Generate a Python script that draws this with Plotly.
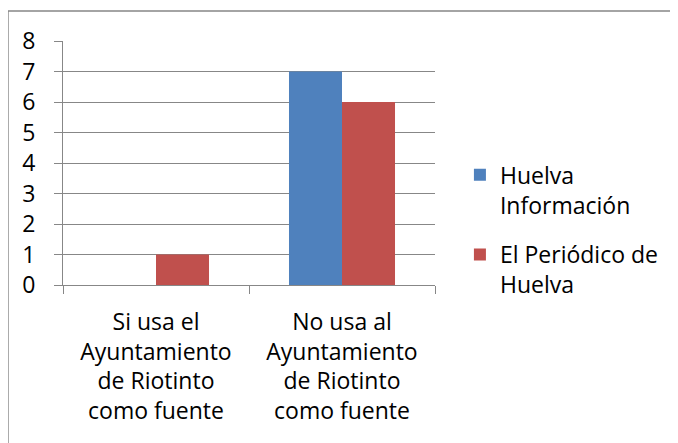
import plotly.graph_objects as go

categories = ["Si usa el<br>Ayuntamiento<br>de Riotinto<br>como fuente",
              "No usa al<br>Ayuntamiento<br>de Riotinto<br>como fuente"]
series_names = ["Huelva<br>Información", "El Periódico de<br>Huelva"]
huelva_informacion = [0, 7]
el_periodico = [1, 6]
y_ticks = [0, 1, 2, 3, 4, 5, 6, 7, 8]

FONT = "Open Sans"
GRID = "#878787"
FS = 23

fig = go.Figure()
fig.add_trace(go.Bar(x=categories, y=huelva_informacion, name=series_names[0],
                     legendgroup="a",
                     marker=dict(color="#4F81BD", line=dict(width=0))))
fig.add_trace(go.Bar(x=categories, y=el_periodico, name=series_names[1],
                     legendgroup="b",
                     marker=dict(color="#C0504D", line=dict(width=0))))

fig.update_layout(
    width=670, height=435,
    margin=dict(l=55, r=243, t=33, b=158),
    paper_bgcolor="white", plot_bgcolor="white",
    barmode="group", bargap=0.43, bargroupgap=0,
    font=dict(family=FONT, size=FS, color="black"),
    showlegend=True,
    legend=dict(x=1.067, y=0.54, xanchor="left", yanchor="top",
                valign="top", itemwidth=30, tracegroupgap=17,
                font=dict(family=FONT, size=FS, color="black"),
                bgcolor="rgba(0,0,0,0)"),
    shapes=[dict(type="rect", xref="paper", yref="paper",
                 x0=-0.148, x1=2.0, y0=-2.0, y1=1.123,
                 line=dict(color="#868686", width=1.5), layer="below")],
)
fig.update_xaxes(showline=True, linecolor=GRID, linewidth=1,
                 ticks="outside", tickson="boundaries", ticklen=8, tickcolor=GRID,
                 showgrid=False, ticklabelstandoff=16, tickfont=dict(family=FONT, size=FS))
fig.update_yaxes(range=[0, 8], tickvals=y_ticks, showline=True, linecolor=GRID, linewidth=1,
                 ticks="outside", ticklen=8, tickcolor=GRID,
                 showgrid=True, gridcolor=GRID, gridwidth=1, zeroline=False,
                 ticklabelstandoff=14, tickfont=dict(family=FONT, size=FS))

fig.write_html("out.html")
